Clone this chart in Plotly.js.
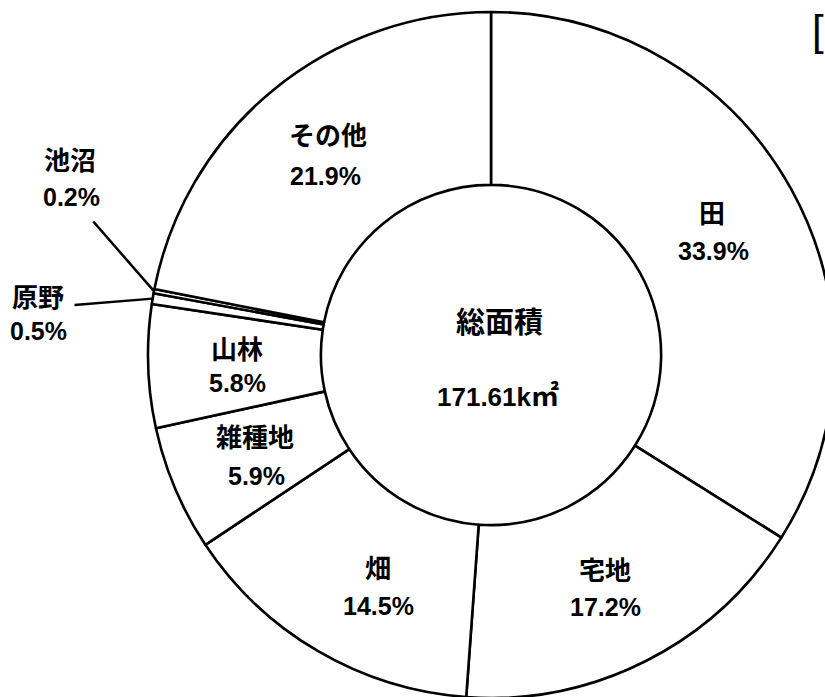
<!DOCTYPE html>
<html>
<head>
<meta charset="utf-8">
<script src="https://cdn.plot.ly/plotly-3.0.1.min.js"></script>
<style>
html,body{margin:0;padding:0;overflow:hidden;background:#fff;}
#chart{width:840px;height:710px;}
</style>
</head>
<body>
<div id="chart"></div>
<script>
// Data
const categories = ["田", "宅地", "畑", "雑種地", "山林", "原野", "池沼", "その他"];
const shares = [33.9, 17.2, 14.5, 5.9, 5.8, 0.5, 0.2, 21.9];
const shareLabels = ["33.9%", "17.2%", "14.5%", "5.9%", "5.8%", "0.5%", "0.2%", "21.9%"];
const centerTitle = "総面積";
const centerNumber = "171.61k";
const centerUnit = "㎡";

// Layout geometry (pixels in an 840x710 canvas)
const W = 840, H = 710;
const cx = 491, cy = 355, R = 343;
const px = x => x / W;
const py = y => 1 - y / H;

// label positions (pixels): [name x, name y, value x, value y]
const labelPos = [
  [712, 211, 713, 251],
  [605, 568, 605, 607],
  [378, 566, 378, 606],
  [255, 435, 256, 476],
  [237, 347, 237, 383],
  [38, 295, 38, 331],
  [70, 158, 71, 197],
  [328, 134, 325, 176]
];
// leader-line label anchors for tiny slices
const leaderStart = {5: [73, 305], 6: [92, 220]};

const cjk = '"Noto Sans CJK JP", "Liberation Sans", sans-serif';
const num = '"Liberation Sans", Arial, sans-serif';

const annotations = [];
const total = shares.reduce((a, b) => a + b, 0);
let cum = 0;
categories.forEach((c, i) => {
  const p = labelPos[i];
  annotations.push({xref:'paper', yref:'paper', x:px(p[0]), y:py(p[1]), text:'<b>'+c+'</b>',
    showarrow:false, font:{family:cjk, size:26, color:'#000'}, xanchor:'center', yanchor:'middle'});
  annotations.push({xref:'paper', yref:'paper', x:px(p[2]), y:py(p[3]), text:'<b>'+shareLabels[i]+'</b>',
    showarrow:false, font:{family:num, size:25, color:'#000'}, xanchor:'center', yanchor:'middle'});
  const mid = (cum + shares[i] / 2) / total * 2 * Math.PI;
  cum += shares[i];
  if (leaderStart[i]) {
    const ex = cx + R * Math.sin(mid), ey = cy - R * Math.cos(mid);
    const s = leaderStart[i];
    annotations.push({xref:'paper', yref:'paper', axref:'paper', ayref:'paper',
      x:px(ex), y:py(ey), ax:px(s[0]), ay:py(s[1]), text:'', showarrow:true,
      arrowhead:0, arrowwidth:2.5, arrowcolor:'#000', standoff:0, startstandoff:0});
  }
});
annotations.push({xref:'paper', yref:'paper', x:px(499), y:py(320), text:'<b>'+centerTitle+'</b>',
  showarrow:false, font:{family:cjk, size:29, color:'#000'}, xanchor:'center', yanchor:'middle'});
annotations.push({xref:'paper', yref:'paper', x:px(498), y:py(394),
  text:'<b>'+centerNumber+'<span style="font-family:\'Noto Sans CJK JP\';font-size:28px">'+centerUnit+'</span></b>',
  showarrow:false, font:{family:num, size:26, color:'#000'}, xanchor:'center', yanchor:'middle'});
annotations.push({xref:'paper', yref:'paper', x:px(818), y:py(31), text:'[',
  showarrow:false, font:{family:num, size:42, color:'#000'}, xanchor:'center', yanchor:'middle'});

const trace = {
  type:'pie',
  labels: categories,
  values: shares,
  sort:false,
  direction:'clockwise',
  rotation:0,
  hole:0.496,
  textinfo:'none',
  hoverinfo:'none',
  marker:{colors: categories.map(() => '#ffffff'), line:{color:'#000', width:2.6}},
  domain:{x:[px(cx - R), px(cx + R)], y:[1 - (cy + R) / H, 1 - (cy - R) / H]},
  showlegend:false
};

Plotly.newPlot('chart', [trace], {
  width:W, height:H,
  margin:{l:0, r:0, t:0, b:0},
  paper_bgcolor:'#fff',
  showlegend:false,
  annotations: annotations
}, {staticPlot:true});
</script>
</body>
</html>
